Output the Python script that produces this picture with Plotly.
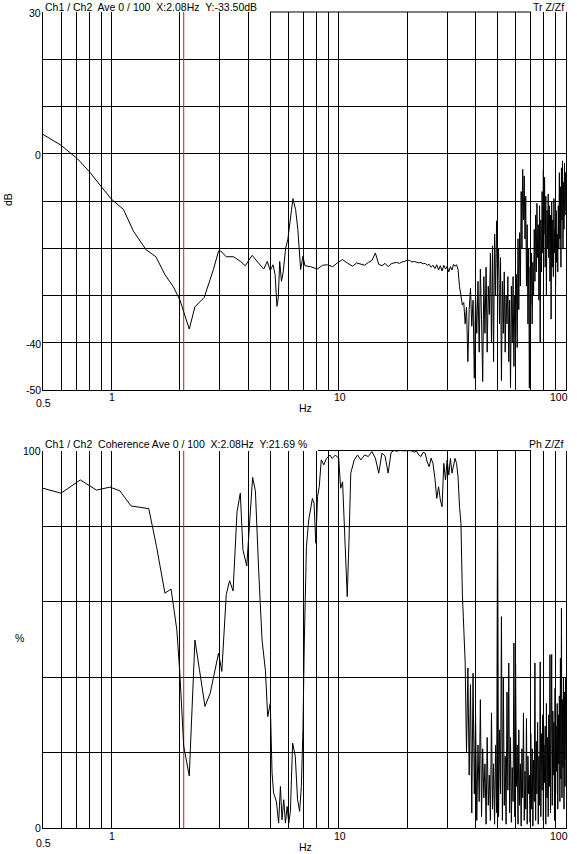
import plotly.graph_objects as go

# ---- data ----
# frequencies (Hz) below 12.5 Hz, transfer function curve
f_tr_low = [0.5, 0.6, 0.71, 0.8, 0.9, 1.0, 1.13, 1.25, 1.42, 1.57,
            1.72, 1.87, 2.0, 2.08, 2.2, 2.33, 2.56, 2.81, 2.96, 3.03,
            3.2, 3.45, 3.7, 3.88, 4.16, 4.43, 4.68, 4.85, 5.0, 5.14,
            5.25, 5.35, 5.42, 5.5, 5.6, 5.7, 5.84, 5.97, 6.1, 6.29,
            6.46, 6.61, 6.8, 6.96, 7.1, 7.52, 8.05, 8.5, 8.91, 9.4,
            9.87, 10.38, 10.9, 11.5, 12.0]
db_low = [4.1, 1.8, -1.1, -3.8, -6.9, -9.6, -11.8, -16.4, -20.3, -21.8,
          -25.6, -28.1, -30.9, -33.5, -37.1, -32.4, -30.4, -24.5, -20.6, -20.6,
          -21.8, -21.8, -22.8, -23.7, -21.5, -23.1, -24.4, -22.8, -24.7, -23.5,
          -25.6, -32.3, -30.5, -22.8, -27.0, -25.0, -20.0, -18.2, -14.6, -9.5,
          -11.8, -16.0, -24.5, -21.7, -23.7, -23.9, -24.4, -23.6, -23.5, -23.9,
          -23.1, -22.4, -23.1, -23.8, -23.1]

# frequencies (Hz) below 12.5 Hz, coherence curve
f_coh_low = [0.5, 0.6, 0.73, 0.86, 0.985, 1.09, 1.22, 1.46, 1.58, 1.72,
             1.83, 1.94, 2.0, 2.08, 2.2, 2.33, 2.44, 2.58, 2.72, 2.96,
             3.06, 3.2, 3.31, 3.43, 3.57, 3.69, 3.79, 3.94, 4.18, 4.3,
             4.45, 4.6, 4.76, 4.87, 5.0, 5.09, 5.17, 5.32, 5.44, 5.54,
             5.63, 5.73, 5.83, 5.93, 6.03, 6.13, 6.27, 6.44, 6.59, 6.73,
             6.85, 6.96, 7.06, 7.21, 7.38, 7.66, 7.79, 7.93, 8.07, 8.21,
             8.38, 8.6, 8.83, 9.14, 9.35, 9.67, 10.0, 10.2, 10.4, 10.6,
             10.75, 10.9, 11.1, 11.3, 11.7, 12.1]
coh_low = [90.0, 88.7, 92.2, 89.5, 90.3, 89.3, 85.3, 84.6, 74.5, 62.2,
           63.3, 52.5, 41.0, 21.7, 13.8, 49.8, 41.9, 32.2, 35.7, 46.3,
           41.5, 61.8, 65.5, 62.8, 83.8, 88.7, 73.7, 69.4, 92.9, 89.3,
           67.5, 49.8, 41.7, 29.5, 33.0, 14.6, 9.3, 7.0, 1.3, 11.0,
           2.2, 7.5, 1.3, 5.7, 1.3, 4.4, 22.5, 19.0, 7.5, 4.4,
           11.0, 26.0, 49.8, 74.5, 81.6, 87.3, 86.0, 75.4, 87.8, 90.4,
           97.5, 96.2, 97.9, 98.8, 97.9, 98.8, 97.9, 90.0, 91.7, 80.7,
           73.7, 61.3, 76.3, 94.0, 97.5, 98.8]

# shared frequency bins 12.5 .. 33 Hz
f_flat = [12.5, 13.0, 13.5, 14.0, 14.5, 15.0, 15.5, 16.0, 16.5, 17.0,
          17.5, 18.0, 18.5, 19.0, 19.5, 20.0, 20.5, 21.0, 21.5, 22.0,
          22.5, 23.0, 23.5, 24.0, 24.5, 25.0, 25.5, 26.0, 26.5, 27.0,
          27.5, 28.0, 28.5, 29.0, 29.5, 30.0, 30.5, 31.0, 31.5, 32.0,
          32.5, 33.0]
db_flat = [-23.3, -23.6, -23.0, -22.6, -21.0, -23.4, -23.7, -23.2, -23.9, -23.3,
           -23.1, -23.0, -23.2, -22.9, -22.8, -22.5, -22.6, -22.9, -22.8, -23.0,
           -23.1, -23.0, -23.3, -23.2, -23.6, -23.4, -24.0, -23.6, -24.3, -23.5,
           -24.6, -23.7, -24.8, -23.6, -24.4, -23.8, -25.0, -23.9, -24.6, -23.4,
           -23.8, -23.5]
coh_flat = [97.5, 98.8, 98.4, 99.7, 98.0, 94.0, 99.3, 98.5, 94.0, 99.5,
            100.0, 99.8, 100.0, 99.9, 99.9, 100.0, 99.9, 99.9, 99.6, 99.8,
            98.8, 98.4, 99.5, 99.3, 97.0, 95.7, 98.0, 96.5, 92.6, 87.3,
            90.4, 86.9, 85.1, 96.6, 92.2, 97.5, 93.5, 97.9, 94.0, 96.0,
            97.9, 96.6]

# shared frequency bins 33.5 .. 100 Hz (noisy band)
f_high = [33.5, 34.0, 34.5, 35.0, 35.5, 36.0, 36.5, 37.0, 37.5, 38.0,
          38.5, 39.0, 39.5, 40.0, 40.5, 41.0, 41.5, 42.0, 42.5, 43.0,
          43.5, 44.0, 44.5, 45.0, 45.5, 46.0, 46.5, 47.0, 47.5, 48.0,
          48.5, 49.0, 49.5, 50.0, 50.5, 51.0, 51.5, 52.0, 52.5, 53.0,
          53.5, 54.0, 54.5, 55.0, 55.5, 56.0, 56.5, 57.0, 57.5, 58.0,
          58.5, 59.0, 59.5, 60.0, 60.5, 61.0, 61.5, 62.0, 62.5, 63.0,
          63.5, 64.0, 64.5, 65.0, 65.5, 66.0, 66.5, 67.0, 67.5, 68.0,
          68.5, 69.0, 69.5, 70.0, 70.5, 71.0, 71.5, 72.0, 72.5, 73.0,
          73.5, 74.0, 74.5, 75.0, 75.5, 76.0, 76.5, 77.0, 77.5, 78.0,
          78.5, 79.0, 79.5, 80.0, 80.5, 81.0, 81.5, 82.0, 82.5, 83.0,
          83.5, 84.0, 84.5, 85.0, 85.5, 86.0, 86.5, 87.0, 87.5, 88.0,
          88.5, 89.0, 89.5, 90.0, 90.5, 91.0, 91.5, 92.0, 92.5, 93.0,
          93.5, 94.0, 94.5, 95.0, 95.5, 96.0, 96.5, 97.0, 97.5, 98.0,
          98.5, 99.0, 99.5, 100.0]
db_high = [-24.5, -28.1, -30.2, -32.0, -31.5, -36.0, -32.5, -44.0, -33.0, -28.5,
           -36.5, -31.0, -47.5, -30.0, -38.0, -27.0, -42.0, -24.4, -35.0, -48.2,
           -26.0, -38.0, -24.0, -42.0, -28.0, -34.0, -21.0, -40.0, -19.5, -44.0,
           -17.0, -30.0, -14.2, -26.0, -20.0, -36.0, -22.0, -48.0, -27.0, -38.0,
           -25.0, -42.0, -30.0, -36.0, -26.0, -44.0, -31.0, -49.5, -28.0, -40.0,
           -26.0, -45.0, -30.0, -38.0, -25.5, -41.0, -18.0, -33.0, -16.7, -28.0,
           -8.0, -20.0, -3.3, -14.0, -4.7, -18.0, -9.0, -28.0, -15.0, -36.0,
           -20.0, -49.6, -24.0, -32.0, -21.0, -36.0, -23.0, -30.0, -16.0, -27.0,
           -13.0, -25.0, -10.5, -22.0, -15.0, -31.0, -11.0, -40.0, -14.0, -25.0,
           -8.0, -21.0, -3.3, -17.0, -5.0, -24.0, -9.0, -30.0, -12.0, -20.0,
           -8.5, -22.0, -11.0, -27.0, -13.0, -35.0, -10.0, -24.0, -14.0, -26.0,
           -9.5, -21.0, -16.0, -28.0, -12.0, -23.0, -17.0, -25.0, -11.0, -20.0,
           -4.0, -18.0, -7.0, -24.0, -3.0, -14.0, -1.5, -20.0, -6.0, -16.0,
           -2.0, -13.0, -4.0, -12.0]
coh_high = [93.0, 85.1, 80.7, 62.0, 50.0, 44.0, 20.0, 42.4, 14.0, 38.0,
            4.0, 41.0, 9.0, 30.0, 2.0, 22.0, 7.0, 34.0, 3.0, 21.0,
            8.0, 17.0, 1.0, 24.0, 6.0, 14.0, 2.0, 30.5, 5.0, 17.0,
            1.0, 22.0, 4.0, 87.3, 3.0, 26.0, 9.0, 56.0, 2.0, 40.0,
            6.0, 19.0, 1.0, 36.0, 10.0, 43.7, 4.0, 24.0, 1.5, 16.0,
            7.0, 49.0, 3.0, 43.7, 11.0, 22.0, 1.0, 26.0, 6.0, 17.0,
            0.5, 21.0, 8.0, 30.5, 2.0, 15.0, 5.0, 29.0, 1.0, 19.0,
            9.0, 14.0, 1.5, 25.0, 5.0, 21.0, 0.5, 18.0, 7.0, 43.7,
            2.0, 23.0, 9.0, 28.0, 1.0, 19.0, 6.0, 44.0, 3.0, 25.0,
            10.0, 30.0, 2.0, 22.0, 12.0, 27.0, 1.0, 33.0, 8.0, 24.0,
            3.0, 30.0, 11.0, 45.9, 4.0, 26.0, 46.0, 6.0, 31.0, 14.0,
            28.0, 2.0, 37.0, 9.0, 27.0, 15.0, 33.0, 5.0, 30.0, 17.0,
            35.0, 7.0, 45.0, 13.0, 58.2, 8.0, 34.0, 16.0, 40.0, 5.0,
            36.0, 11.0, 40.0, 18.0]

cursor_hz = 2.08
x_grid = [0.6, 0.7, 0.8, 0.9, 1, 2, 3, 4, 5, 6, 7, 8, 9,
          10, 20, 30, 40, 50, 60, 70, 80, 90]
db_grid = [-40, -30, -20, -10, 0, 10, 20]
coh_grid = [20, 40, 60, 80]

# ---- page geometry (pixels); body margin is removed in the page below ----
W, H = 577, 854
X0, X1 = 43, 566      # plot area left / right
Y0, Y1 = 12, 828      # plot area top / bottom
L, T, R, B = X0, Y0, W - X1, H - Y1


def px_x(px):
    return (px - X0) / (X1 - X0)


def px_y(py):
    return (Y1 - py) / (Y1 - Y0)


FONT = dict(family="Liberation Sans, Arial, sans-serif", size=10.5, color="#000000")


def label(text, px, py, anchor="center", angle=0):
    return dict(text=text, xref="paper", yref="paper", x=px_x(px), y=px_y(py),
                xanchor=anchor, yanchor="middle", showarrow=False,
                textangle=angle, font=FONT)


tr_f = f_tr_low + f_flat + f_high
tr_db = db_low + db_flat + db_high
coh_f = f_coh_low + f_flat + f_high
coh_v = coh_low + coh_flat + coh_high

fig = go.Figure()

fig.add_trace(go.Scatter(x=[cursor_hz, cursor_hz], y=[-50, 30], mode="lines",
                         line=dict(color="#c81e1e", width=1),
                         xaxis="x", yaxis="y", showlegend=False))
fig.add_trace(go.Scatter(x=tr_f, y=tr_db, mode="lines",
                         line=dict(color="#000000", width=1),
                         xaxis="x", yaxis="y", showlegend=False))
fig.add_trace(go.Scatter(x=[cursor_hz, cursor_hz], y=[0, 100], mode="lines",
                         line=dict(color="#c81e1e", width=1),
                         xaxis="x2", yaxis="y2", showlegend=False))
fig.add_trace(go.Scatter(x=coh_f, y=coh_v, mode="lines",
                         line=dict(color="#000000", width=1),
                         xaxis="x2", yaxis="y2", showlegend=False))

xaxis_style = dict(type="log", range=[-0.30103, 2], tickvals=x_grid,
                   showticklabels=False, ticks="", showgrid=True,
                   gridcolor="#000000", gridwidth=1, zeroline=False,
                   showline=True, linecolor="#000000", linewidth=1, mirror=False)

top_dom = [px_y(390), 1.0]
bot_dom = [0.0, px_y(450.5)]

fig.update_layout(
    width=W, height=H,
    margin=dict(l=L, r=R, t=T, b=B, pad=0),
    paper_bgcolor="white", plot_bgcolor="white",
    showlegend=False,
    xaxis=dict(xaxis_style, anchor="y"),
    yaxis=dict(range=[-50, 30], domain=top_dom, tickvals=db_grid,
               showticklabels=False, ticks="", showgrid=True,
               gridcolor="#000000", gridwidth=1, zeroline=False,
               showline=True, linecolor="#000000", linewidth=1, mirror=True,
               anchor="x"),
    xaxis2=dict(xaxis_style, anchor="y2"),
    yaxis2=dict(range=[0, 100], domain=bot_dom, tickvals=coh_grid,
                showticklabels=False, ticks="", showgrid=True,
                gridcolor="#000000", gridwidth=1, zeroline=False,
                showline=True, linecolor="#000000", linewidth=1, mirror=True,
                anchor="x2"),
)

# top border is only drawn between the header texts
fig.add_shape(type="line", xref="paper", yref="paper",
              x0=px_x(270), x1=px_x(531), y0=top_dom[1], y1=top_dom[1],
              line=dict(color="#000000", width=1))
fig.add_shape(type="line", xref="paper", yref="paper",
              x0=px_x(318), x1=px_x(531), y0=bot_dom[1], y1=bot_dom[1],
              line=dict(color="#000000", width=1))

annotations = [
    label("Ch1 / Ch2  Ave 0 / 100  X:2.08Hz  Y:-33.50dB", 43, 7, "left"),
    label("Tr Z/Zf", 566, 7, "right"),
    label("30", 43, 13, "right"),
    label("0", 42.5, 155, "right"),
    label("-40", 42.5, 344, "right"),
    label("-50", 42.5, 390, "right"),
    label("dB", 8, 200, angle=-90),
    label("0.5", 43, 403),
    label("1", 112, 397),
    label("10", 340, 397),
    label("100", 559, 397),
    label("Hz", 305, 408),
    label("Ch1 / Ch2  Coherence Ave 0 / 100  X:2.08Hz  Y:21.69 %", 43, 444, "left"),
    label("Ph Z/Zf", 566, 444, "right"),
    label("100", 43, 451, "right"),
    label("%", 19, 638),
    label("0", 42.5, 828, "right"),
    label("0.5", 43, 843),
    label("1", 112, 836),
    label("10", 340, 836),
    label("100", 559, 836),
    label("Hz", 305, 847),
]
fig.update_layout(annotations=annotations)

# the default html body has an 8px margin; drop it so the figure fills the window
fig.write_html("out.html", config={"displayModeBar": False},
               post_script="document.body.style.margin = '0';")
